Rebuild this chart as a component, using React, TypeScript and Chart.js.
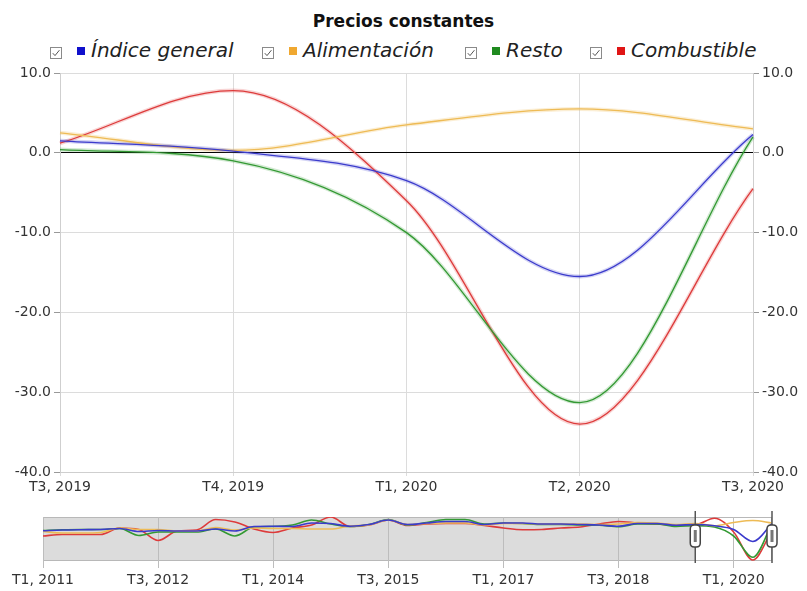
import React, { useEffect, useRef } from "react";
import { Chart, registerables } from "chart.js";

Chart.register(...registerables);

// ---------- DATA ----------
const quarters = [
  "T1, 2011", "T2, 2011", "T3, 2011", "T4, 2011",
  "T1, 2012", "T2, 2012", "T3, 2012", "T4, 2012",
  "T1, 2013", "T2, 2013", "T3, 2013", "T4, 2013",
  "T1, 2014", "T2, 2014", "T3, 2014", "T4, 2014",
  "T1, 2015", "T2, 2015", "T3, 2015", "T4, 2015",
  "T1, 2016", "T2, 2016", "T3, 2016", "T4, 2016",
  "T1, 2017", "T2, 2017", "T3, 2017", "T4, 2017",
  "T1, 2018", "T2, 2018", "T3, 2018", "T4, 2018",
  "T1, 2019", "T2, 2019", "T3, 2019", "T4, 2019",
  "T1, 2020", "T2, 2020", "T3, 2020",
];

const indiceGeneral = [
  -4.7, -4.0, -3.7, -3.5, -2.5, -5.5, -4.5, -5.0, -5.0, -3.0, -5.0, -0.5,
  -0.3, -0.5, 3.0, 2.5, -0.3, 1.5, 6.0, 1.5, 3.0, 4.5, 4.5, 1.5,
  3.0, 3.0, 2.0, 2.0, 1.5, 1.0, -0.3, 2.5, 2.5, 0.8, 1.5, 0.2,
  -3.5, -15.5, 2.3,
];
const alimentacion = [
  -5.5, -7.0, -7.0, -6.5, -2.0, -3.5, -3.5, -5.0, -5.0, -1.5, -4.0, -2.0,
  -2.5, -2.5, -3.0, -3.0, 0.0, 1.0, 6.0, 1.5, 2.5, 3.0, 3.0, 1.0,
  2.5, 2.5, 2.0, 2.0, 2.0, 1.5, 2.0, 3.5, 3.0, 1.5, 2.5, 0.3,
  3.5, 5.5, 3.0,
];
const resto = [
  -4.5, -3.8, -3.5, -3.5, -2.5, -9.5, -6.0, -6.0, -6.0, -3.0, -10.0, -1.0,
  -0.5, 1.0, 6.0, 2.0, -0.5, 1.5, 6.5, 1.0, 3.5, 6.5, 6.5, 2.0,
  3.0, 2.5, 1.5, 1.5, 1.0, 0.8, -0.8, 2.0, 2.0, -0.5, 0.4, -1.0,
  -10.0, -31.3, 2.0,
];
const combustible = [
  -10.0, -8.5, -8.5, -8.5, -2.0, -3.5, -14.5, -5.0, -4.0, 6.5, 4.0, -3.0,
  -6.5, -2.0, 1.0, 9.0, -0.5, 1.0, 6.0, 0.5, 2.0, 2.5, 2.5, 0.5,
  -2.0, -3.7, -3.5, -2.0, -1.0, 2.0, 4.5, 3.0, 2.0, 1.0, 1.2, 7.8,
  -6.0, -34.0, -4.5,
];

const seriesNames = ["Índice general", "Alimentación", "Resto", "Combustible"];
const seriesValues = [indiceGeneral, alimentacion, resto, combustible];
const lineColors = ["#3b3bcc", "#eebb55", "#339933", "#dd3b3b"];
const haloColors = [
  "rgba(59,59,204,0.22)",
  "rgba(238,187,85,0.25)",
  "rgba(51,153,51,0.22)",
  "rgba(221,59,59,0.22)",
];
const legendColors = ["#1010cc", "#f0a830", "#1f8a1f", "#e01515"];

const zoomStart = 34; // T3, 2019
const zoomEnd = 38; // T3, 2020
const yTicksMin = -40;
const yTicksMax = 10;
const navMin = -35;
const navMax = 9;

const FONT = "'DejaVu Sans', Verdana, sans-serif";

function MainChart() {
  const ref = useRef<HTMLCanvasElement>(null);
  useEffect(() => {
    const labels = quarters.slice(zoomStart, zoomEnd + 1);
    const datasets: any[] = [];
    seriesValues.forEach((vals, i) => {
      datasets.push({
        label: seriesNames[i],
        data: vals.slice(zoomStart, zoomEnd + 1),
        borderColor: lineColors[i],
        borderWidth: 1.3,
        pointRadius: 0,
        cubicInterpolationMode: "monotone",
        fill: false,
        order: 0,
      });
    });
    seriesValues.forEach((vals, i) => {
      datasets.push({
        label: seriesNames[i] + " halo",
        data: vals.slice(zoomStart, zoomEnd + 1),
        borderColor: haloColors[i],
        borderWidth: 4,
        pointRadius: 0,
        cubicInterpolationMode: "monotone",
        fill: false,
        order: 1,
      });
    });
    const tickFont = { family: FONT, size: 14 };
    const chart = new Chart(ref.current!, {
      type: "line",
      data: { labels, datasets },
      options: {
        animation: false,
        responsive: false,
        layout: { padding: { top: 13, left: 0, right: 0, bottom: 0 } },
        plugins: { legend: { display: false }, tooltip: { enabled: false }, title: { display: false } },
        scales: {
          x: {
            offset: false,
            grid: { color: "#dcdcdc", tickLength: 4 },
            border: { color: "#cfcfcf" },
            ticks: { color: "#333", font: tickFont, padding: 3, maxRotation: 0, autoSkip: false },
            afterFit: (s: any) => { s.height = 33; },
          },
          y: {
            position: "left",
            min: yTicksMin,
            max: yTicksMax,
            grid: {
              color: (c: any) => (c.tick && c.tick.value === 0 ? "#000000" : "#dcdcdc"),
              tickColor: "#999",
              tickLength: 6,
            },
            border: { color: "#cfcfcf" },
            ticks: { stepSize: 10, color: "#333", font: tickFont, padding: 3, callback: (v: any) => Number(v).toFixed(1) },
            afterFit: (s: any) => { s.width = 60; },
          },
          y2: {
            position: "right",
            min: yTicksMin,
            max: yTicksMax,
            grid: { drawOnChartArea: false, tickColor: "#999", tickLength: 6 },
            border: { color: "#cfcfcf" },
            ticks: { stepSize: 10, color: "#333", font: tickFont, padding: 3, callback: (v: any) => Number(v).toFixed(1) },
            afterFit: (s: any) => { s.width = 54; },
          },
        },
      },
    });
    return () => chart.destroy();
  }, []);
  return (
    <canvas
      ref={ref}
      width={807}
      height={445}
      style={{ position: "absolute", left: 0, top: 60, width: 807, height: 445 }}
    />
  );
}

const navigatorPlugin = {
  id: "navigatorDecor",
  beforeDraw(chart: any) {
    const { ctx, chartArea } = chart;
    const x = chart.scales.x;
    const sx = x.getPixelForValue(zoomStart);
    const ex = x.getPixelForValue(zoomEnd);
    ctx.save();
    ctx.fillStyle = "#dcdcdc";
    ctx.fillRect(chartArea.left, chartArea.top, sx - chartArea.left, chartArea.bottom - chartArea.top);
    ctx.fillStyle = "#ffffff";
    ctx.fillRect(sx, chartArea.top, ex - sx, chartArea.bottom - chartArea.top);
    ctx.strokeStyle = "#b8b8b8";
    ctx.lineWidth = 1;
    ctx.strokeRect(chartArea.left + 0.5, chartArea.top + 0.5, chartArea.right - chartArea.left - 1, chartArea.bottom - chartArea.top - 1);
    ctx.restore();
  },
  afterDraw(chart: any) {
    const { ctx, chartArea } = chart;
    const x = chart.scales.x;
    const positions = [x.getPixelForValue(zoomStart), x.getPixelForValue(zoomEnd)];
    const mid = (chartArea.top + chartArea.bottom) / 2 - 3;
    ctx.save();
    positions.forEach((px: number) => {
      ctx.strokeStyle = "#555";
      ctx.lineWidth = 1.5;
      ctx.beginPath();
      ctx.moveTo(px, chartArea.top - 6);
      ctx.lineTo(px, chartArea.bottom + 2);
      ctx.stroke();
      const w = 10;
      const h = 22;
      const r = 4;
      const l = px - w / 2;
      const t = mid - h / 2;
      ctx.beginPath();
      ctx.moveTo(l + r, t);
      ctx.lineTo(l + w - r, t);
      ctx.quadraticCurveTo(l + w, t, l + w, t + r);
      ctx.lineTo(l + w, t + h - r);
      ctx.quadraticCurveTo(l + w, t + h, l + w - r, t + h);
      ctx.lineTo(l + r, t + h);
      ctx.quadraticCurveTo(l, t + h, l, t + h - r);
      ctx.lineTo(l, t + r);
      ctx.quadraticCurveTo(l, t, l + r, t);
      ctx.closePath();
      ctx.fillStyle = "#ffffff";
      ctx.fill();
      ctx.strokeStyle = "#444";
      ctx.lineWidth = 1.5;
      ctx.stroke();
      ctx.fillStyle = "#777";
      ctx.fillRect(px - 1.5, mid - 6, 3, 12);
    });
    ctx.restore();
  },
};

function NavigatorChart() {
  const ref = useRef<HTMLCanvasElement>(null);
  useEffect(() => {
    const datasets = seriesValues.map((vals, i) => ({
      label: seriesNames[i],
      data: vals,
      borderColor: lineColors[i],
      borderWidth: 1.6,
      pointRadius: 0,
      cubicInterpolationMode: "monotone",
      fill: false,
    }));
    const chart = new Chart(ref.current!, {
      type: "line",
      data: { labels: quarters, datasets },
      options: {
        animation: false,
        responsive: false,
        layout: { padding: { top: 12, left: 43, right: 35, bottom: 0 } },
        plugins: { legend: { display: false }, tooltip: { enabled: false } },
        scales: {
          x: {
            offset: false,
            grid: {
              color: (c: any) => (c.index % 6 === 0 ? "#bdbdbd" : "rgba(0,0,0,0)"),
              tickLength: 7,
            },
            border: { display: false },
            ticks: {
              autoSkip: false,
              maxRotation: 0,
              color: "#333",
              font: { family: FONT, size: 14 },
              padding: 4,
              callback: (_v: any, i: number) => (i % 6 === 0 ? quarters[i] : ""),
            },
            afterFit: (s: any) => { s.height = 30; },
          },
          y: { display: false, min: navMin, max: navMax },
        },
      },
      plugins: [navigatorPlugin],
    });
    return () => chart.destroy();
  }, []);
  return (
    <canvas
      ref={ref}
      width={807}
      height={86}
      style={{ position: "absolute", left: 0, top: 505, width: 807, height: 86 }}
    />
  );
}

// legend item anchor positions (checkbox left edge)
const legendX = [50, 262, 465, 590];

function CheckBox() {
  return (
    <svg width={12} height={12} viewBox="0 0 12 12" style={{ marginRight: 15, marginTop: 5, flex: "none" }}>
      <rect x={0.5} y={0.5} width={11} height={11} fill="#fff" stroke="#8a8a8a" strokeWidth={1} />
      <path d="M2.8 6.2 L5 8.6 L9.4 3.2" fill="none" stroke="#555" strokeWidth={1} />
    </svg>
  );
}

function Legend() {
  return (
    <div
      style={{
        position: "absolute",
        left: 0,
        top: 38,
        width: 807,
        height: 28,
        fontFamily: FONT,
        fontStyle: "italic",
        fontSize: 20,
        color: "#222",
      }}
    >
      {seriesNames.map((n, i) => (
        <div
          key={n}
          style={{
            position: "absolute",
            left: legendX[i],
            top: 0,
            display: "flex",
            alignItems: "center",
            whiteSpace: "nowrap",
          }}
        >
          <CheckBox />
          <span style={{ display: "inline-block", width: 8, height: 8, marginTop: 2, background: legendColors[i], marginRight: 6, flex: "none" }} />
          <span>{n}</span>
        </div>
      ))}
    </div>
  );
}

export default function App() {
  return (
    <div style={{ position: "fixed", left: 0, top: 0, width: 807, height: 591, background: "#fff", overflow: "hidden" }}>
      <div
        style={{
          position: "absolute",
          left: 0,
          top: 11,
          width: 807,
          textAlign: "center",
          fontFamily: FONT,
          fontWeight: "bold",
          fontSize: 17,
          color: "#111",
        }}
      >
        Precios constantes
      </div>
      <Legend />
      <MainChart />
      <NavigatorChart />
    </div>
  );
}
